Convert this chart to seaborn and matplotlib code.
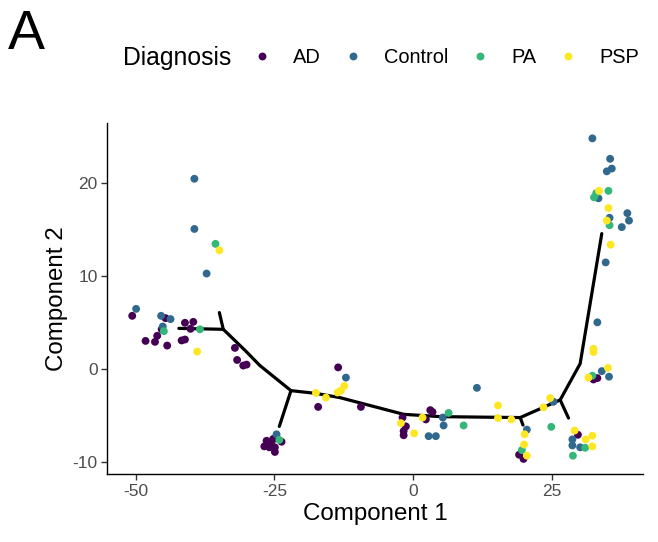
import matplotlib
matplotlib.use("Agg")
import matplotlib.pyplot as plt
import seaborn as sns
import pandas as pd

# cell positions per diagnosis
ad_x = [-50.6, -44.6, -45.3, -41.1, -39.6, -40.1, -46.1, -48.2, -46.5, -44.3, -41.7, -41.1,
        -32.1, -31.7, -30.6, -30.0, -13.5, -17.1, -9.4, -26.8, -26.4, -25.5, -24.9, -24.9,
        -23.7, -25.9, -25.2, -1.9, -1.3, -1.7, -1.7, 3.1, 3.5, 2.3, 19.1, 19.9, 29.7, 32.5, 33.2]
ad_y = [5.75, 5.5, 4.3, 5.0, 5.1, 4.35, 3.6, 3.05, 2.95, 2.55, 3.1, 3.2,
        2.3, 1.0, 0.4, 0.5, 0.2, -4.05, -4.05, -8.3, -7.7, -7.8, -8.4, -8.9,
        -7.8, -8.4, -7.5, -5.2, -6.15, -6.65, -7.1, -4.4, -4.6, -5.4, -9.2, -9.65, -7.05, -1.1, -0.95]

control_x = [-39.4, -39.4, -37.2, -49.9, -45.4, -43.7, -45.1, -12.1, -24.6, 2.8, 4.1, 5.35,
             5.5, 11.5, 20.5, 25.3, 28.7, 28.7, 30.1, 34.0, 35.3, 32.3, 35.5, 35.8, 34.9,
             33.4, 38.6, 38.9, 37.6, 35.4, 34.7, 33.2]
control_y = [20.5, 15.1, 10.3, 6.5, 5.75, 5.4, 4.6, -0.9, -7.0, -7.2, -7.2, -5.2,
             -6.05, -2.0, -6.5, -3.5, -7.55, -8.2, -8.4, -0.2, -0.8, 24.85, 22.65, 21.6, 21.3,
             18.4, 16.8, 16.0, 15.3, 16.3, 11.5, 5.05]

pa_x = [-35.6, -44.9, -38.4, -24.1, 6.4, 9.1, 19.6, 24.9, 31.0, 28.8, 32.3, 35.2, 33.0, 32.6, 35.4]
pa_y = [13.5, 4.1, 4.3, -7.6, -4.7, -6.05, -8.7, -6.2, -8.45, -9.3, -0.7, 19.2, 18.95, 18.5, 15.5]

psp_x = [-34.9, -38.9, -12.4, -13.0, -13.6, -17.5, -15.7, -2.2, 0.2, 1.7, 15.3, 15.3, 17.7,
         20.1, 20.0, 20.5, 23.5, 24.7, 29.1, 31.1, 32.3, 32.3, 32.5, 32.5, 35.1, 31.6,
         33.5, 35.2, 34.9, 35.6]
psp_y = [12.8, 1.9, -1.8, -2.3, -2.5, -2.55, -3.05, -5.8, -6.9, -5.2, -3.9, -5.25, -5.4,
         -7.0, -8.1, -9.3, -4.1, -3.1, -6.6, -7.55, -7.15, -8.3, 2.2, 1.85, 0.15, -0.9,
         19.2, 17.35, 16.0, 13.4]

# trajectory (main path + short branches)
path_x = [-42.2, -34.2, -30.3, -27.6, -22.0, -17.5, -13.2, -1.7, 4.9, 19.3, 26.5, 30.1, 34.0]
path_y = [4.4, 4.3, 2.05, 0.4, -2.3, -2.6, -3.05, -4.85, -5.1, -5.2, -3.3, 0.6, 14.6]
branch_id = [1, 1, 2, 2, 3, 3, 4, 4]
branch_x = [-34.2, -34.9, -22.0, -24.1, 19.3, 19.8, 26.5, 28.0]
branch_y = [4.3, 6.1, -2.3, -6.15, -5.2, -6.0, -3.3, -5.25]

groups = ["AD", "Control", "PA", "PSP"]
colors = ["#440154", "#31688E", "#35B779", "#FDE725"]

cells = pd.concat([
    pd.DataFrame({"c1": ad_x, "c2": ad_y, "Diagnosis": "AD"}),
    pd.DataFrame({"c1": control_x, "c2": control_y, "Diagnosis": "Control"}),
    pd.DataFrame({"c1": pa_x, "c2": pa_y, "Diagnosis": "PA"}),
    pd.DataFrame({"c1": psp_x, "c2": psp_y, "Diagnosis": "PSP"}),
], ignore_index=True)
path = pd.DataFrame({"c1": path_x, "c2": path_y})
branches = pd.DataFrame({"c1": branch_x, "c2": branch_y, "b": branch_id})

sns.set_style("white")
plt.rcParams["font.family"] = ["Liberation Sans", "DejaVu Sans"]
plt.rcParams["axes.unicode_minus"] = False
plt.rcParams["text.color"] = "black"

fig = plt.figure(figsize=(6.58, 5.42), dpi=100)
ax = fig.add_axes([0.163, 0.125, 0.814, 0.648])

sns.lineplot(data=path, x="c1", y="c2", sort=False, color="black", linewidth=2.3, ax=ax, zorder=2)
sns.lineplot(data=branches, x="c1", y="c2", units="b", estimator=None, sort=False,
             color="black", linewidth=2.3, ax=ax, zorder=2)
sns.scatterplot(data=cells, x="c1", y="c2", hue="Diagnosis", hue_order=groups,
                palette=colors, s=32, linewidth=0, ax=ax, zorder=3)

ax.set_xlim(-55.1, 41.4)
ax.set_ylim(-11.3, 26.5)
ax.set_xticks([-50, -25, 0, 25])
ax.set_yticks([-10, 0, 10, 20])
ax.set_xlabel("Component 1", fontsize=17.4, color="black", labelpad=3)
ax.set_ylabel("Component 2", fontsize=17.4, color="black", labelpad=3)
ax.tick_params(axis="both", labelsize=12.5, labelcolor="#4D4D4D", color="#333333",
               length=4, width=1, bottom=True, left=True, pad=3)
for side in ["top", "right"]:
    ax.spines[side].set_visible(False)
for side in ["left", "bottom"]:
    ax.spines[side].set_color("black")
    ax.spines[side].set_linewidth(1)

sns.move_legend(ax, "center", bbox_to_anchor=(0.677, 0.893), bbox_transform=fig.transFigure,
                ncol=4, title=None, frameon=False, fontsize=14.4, markerscale=1.0,
                handletextpad=1.05, columnspacing=1.1, handlelength=1.0)
for t in ax.get_legend().get_texts():
    t.set_color("black")

fig.text(0.187, 0.893, "Diagnosis", fontsize=17.8, va="center", ha="left", color="black")
fig.text(0.012, 0.935, "A", fontsize=40, va="center", ha="left", color="black")

fig.savefig("out.png", dpi=100)
